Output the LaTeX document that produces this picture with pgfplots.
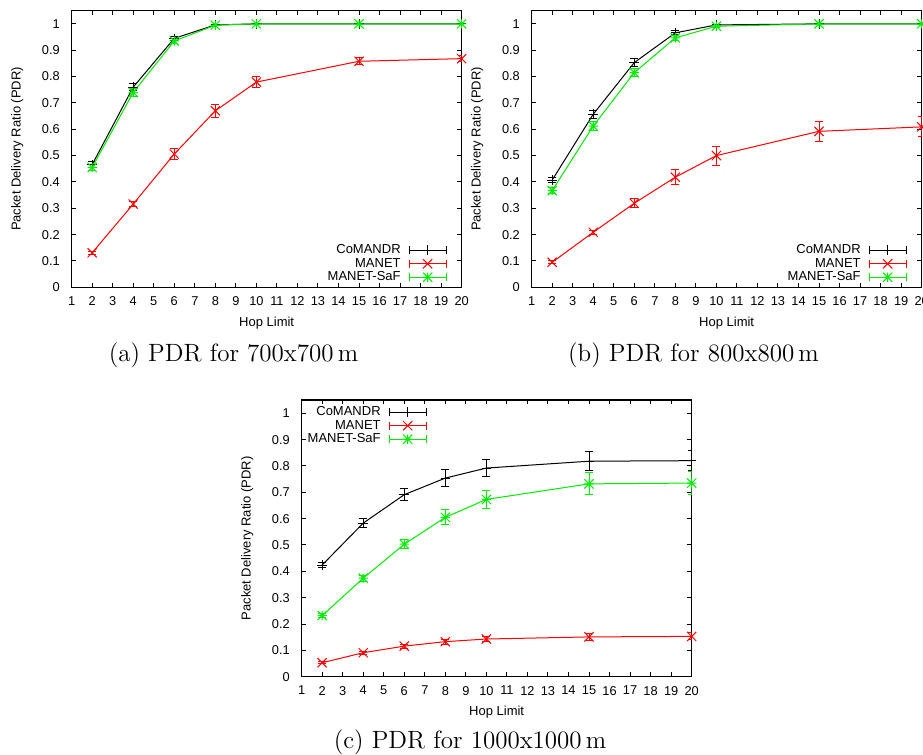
\documentclass[border=0pt]{standalone}
\usepackage{fontspec}
\newfontfamily\hel{Liberation Sans}
\usepackage{pgfplots}
\pgfplotsset{compat=1.18}

\definecolor{gpgreen}{RGB}{0,235,0}

% gnuplot style marks
\pgfdeclareplotmark{gplus}{%
  \pgfpathmoveto{\pgfqpoint{-\pgfplotmarksize}{0pt}}\pgfpathlineto{\pgfqpoint{\pgfplotmarksize}{0pt}}%
  \pgfpathmoveto{\pgfqpoint{0pt}{-\pgfplotmarksize}}\pgfpathlineto{\pgfqpoint{0pt}{\pgfplotmarksize}}%
  \pgfusepathqstroke}
\pgfdeclareplotmark{gx}{%
  \pgfpathmoveto{\pgfqpoint{-\pgfplotmarksize}{-\pgfplotmarksize}}\pgfpathlineto{\pgfqpoint{\pgfplotmarksize}{\pgfplotmarksize}}%
  \pgfpathmoveto{\pgfqpoint{-\pgfplotmarksize}{\pgfplotmarksize}}\pgfpathlineto{\pgfqpoint{\pgfplotmarksize}{-\pgfplotmarksize}}%
  \pgfusepathqstroke}
\pgfdeclareplotmark{gstar}{%
  \pgfpathmoveto{\pgfqpoint{-\pgfplotmarksize}{0pt}}\pgfpathlineto{\pgfqpoint{\pgfplotmarksize}{0pt}}%
  \pgfpathmoveto{\pgfqpoint{0pt}{-\pgfplotmarksize}}\pgfpathlineto{\pgfqpoint{0pt}{\pgfplotmarksize}}%
  \pgfpathmoveto{\pgfqpoint{-\pgfplotmarksize}{-\pgfplotmarksize}}\pgfpathlineto{\pgfqpoint{\pgfplotmarksize}{\pgfplotmarksize}}%
  \pgfpathmoveto{\pgfqpoint{-\pgfplotmarksize}{\pgfplotmarksize}}\pgfpathlineto{\pgfqpoint{\pgfplotmarksize}{-\pgfplotmarksize}}%
  \pgfusepathqstroke}

\pgfplotsset{
  gp/.style={
    scale only axis, width=195pt, height=138.3pt,
    xmin=1, xmax=20, ymin=0, ymax=1.05,
    xtick={1,2,...,20},
    ytick={0,0.1,0.2,0.3,0.4,0.5,0.6,0.7,0.8,0.9,1},
    /pgf/number format/assume math mode=true,
    yticklabel style={/pgf/number format/fixed, /pgf/number format/precision=1, xshift=-2.4pt},
    xticklabel style={yshift=-1.2pt},
    tick align=inside, major tick length=2.2pt,
    every tick/.style={black, line width=0.5pt},
    axis line style={line width=0.6pt},
    tick label style={font=\hel\fontsize{6.4}{7}\selectfont},
    xlabel={Hop Limit}, ylabel={Packet Delivery Ratio (PDR)},
    every axis x label/.style={at={(axis description cs:0.5,0)}, yshift=-17.8pt, anchor=center,
      font=\hel\fontsize{6.5}{7}\selectfont},
    every axis y label/.style={at={(axis description cs:0,0.5)}, xshift=-27.2pt, rotate=90, anchor=center,
      font=\hel\fontsize{6.5}{7}\selectfont},
    legend cell align=right, legend plot pos=right,
    legend style={draw=none, fill=none, inner sep=0pt, row sep=0.75pt, column sep=4pt,
      font=\hel\fontsize{6.5}{7}\selectfont,
      nodes={inner sep=0pt, text height=4.8pt, text depth=1.2pt}},
    legend image code/.code={%
      \draw[##1, mark=none] (0pt,0pt) -- (18.5pt,0pt) (0pt,-2pt) -- (0pt,2pt) (18.5pt,-2pt) -- (18.5pt,2pt);
      \draw[##1, only marks] plot coordinates {(9.25pt,0pt)};},
    error bars/y dir=both, error bars/y explicit,
    error bars/error mark options={rotate=90, mark size=2pt, line width=0.5pt},
  },
  com/.style={black, line width=0.5pt, mark=gplus, mark size=2.4pt, mark options={line width=0.5pt}},
  man/.style={red, line width=0.5pt, mark=gx, mark size=2.3pt, mark options={line width=0.5pt}},
  saf/.style={gpgreen, line width=0.5pt, mark=gstar, mark size=2.3pt, mark options={line width=0.5pt}},
}

\begin{document}
\begin{tikzpicture}
\path[use as bounding box] (0,0) rectangle (461.5pt,377.5pt);

% (a) 700x700
\begin{axis}[gp, at={(35.83pt,233.85pt)}, anchor=south west,
  legend style={at={(axis description cs:1,0)}, anchor=south east, xshift=-7.3pt, yshift=1.8pt}]
\addplot[com] table[x=x, y=y, y error=e] {
x y e
2 0.466 0.010
4 0.760 0.014
6 0.945 0.008
8 0.996 0.003
10 1.000 0.001
15 1.000 0.001
20 1.000 0.001
};
\addlegendentry{CoMANDR}
\addplot[man] table[x=x, y=y, y error=e] {
x y e
2 0.131 0.006
4 0.316 0.010
6 0.506 0.022
8 0.670 0.024
10 0.779 0.022
15 0.858 0.013
20 0.868 0.012
};
\addlegendentry{MANET}
\addplot[saf] table[x=x, y=y, y error=e] {
x y e
2 0.455 0.012
4 0.740 0.015
6 0.935 0.010
8 0.995 0.003
10 1.000 0.001
15 1.000 0.001
20 1.000 0.001
};
\addlegendentry{MANET-SaF}
\end{axis}

% (b) 800x800
\begin{axis}[gp, at={(265.83pt,233.85pt)}, anchor=south west,
  legend style={at={(axis description cs:1,0)}, anchor=south east, xshift=-7.3pt, yshift=1.8pt}]
\addplot[com] table[x=x, y=y, y error=e] {
x y e
2 0.407 0.010
4 0.657 0.016
6 0.853 0.016
8 0.966 0.008
10 0.996 0.002
15 1.000 0.001
20 1.000 0.001
};
\addlegendentry{CoMANDR}
\addplot[man] table[x=x, y=y, y error=e] {
x y e
2 0.095 0.005
4 0.209 0.008
6 0.319 0.018
8 0.418 0.028
10 0.500 0.036
15 0.592 0.038
20 0.609 0.038
};
\addlegendentry{MANET}
\addplot[saf] table[x=x, y=y, y error=e] {
x y e
2 0.367 0.010
4 0.612 0.016
6 0.815 0.016
8 0.947 0.010
10 0.991 0.004
15 1.000 0.002
20 1.000 0.002
};
\addlegendentry{MANET-SaF}
\end{axis}

% (c) 1000x1000
\begin{axis}[gp, at={(150.83pt,39.15pt)}, anchor=south west,
  legend style={at={(axis description cs:0,1)}, anchor=north east, xshift=62.7pt, yshift=-2.85pt}]
\addplot[com] table[x=x, y=y, y error=e] {
x y e
2 0.424 0.009
4 0.583 0.018
6 0.691 0.024
8 0.754 0.031
10 0.792 0.033
15 0.818 0.036
20 0.820 0.037
};
\addlegendentry{CoMANDR}
\addplot[man] table[x=x, y=y, y error=e] {
x y e
2 0.053 0.004
4 0.091 0.006
6 0.116 0.008
8 0.133 0.010
10 0.143 0.011
15 0.151 0.013
20 0.153 0.013
};
\addlegendentry{MANET}
\addplot[saf] table[x=x, y=y, y error=e] {
x y e
2 0.232 0.008
4 0.374 0.011
6 0.503 0.018
8 0.605 0.028
10 0.673 0.034
15 0.732 0.042
20 0.735 0.045
};
\addlegendentry{MANET-SaF}
\end{axis}

\node[anchor=base, font=\fontsize{12.5}{14}\selectfont] at (116.75pt,196.5pt) {(a) PDR for 700x700\,m};
\node[anchor=base, font=\fontsize{12.5}{14}\selectfont] at (346.75pt,196.5pt) {(b) PDR for 800x800\,m};
\node[anchor=base, font=\fontsize{12.5}{14}\selectfont] at (235pt,3pt) {(c) PDR for 1000x1000\,m};
\end{tikzpicture}
\end{document}
